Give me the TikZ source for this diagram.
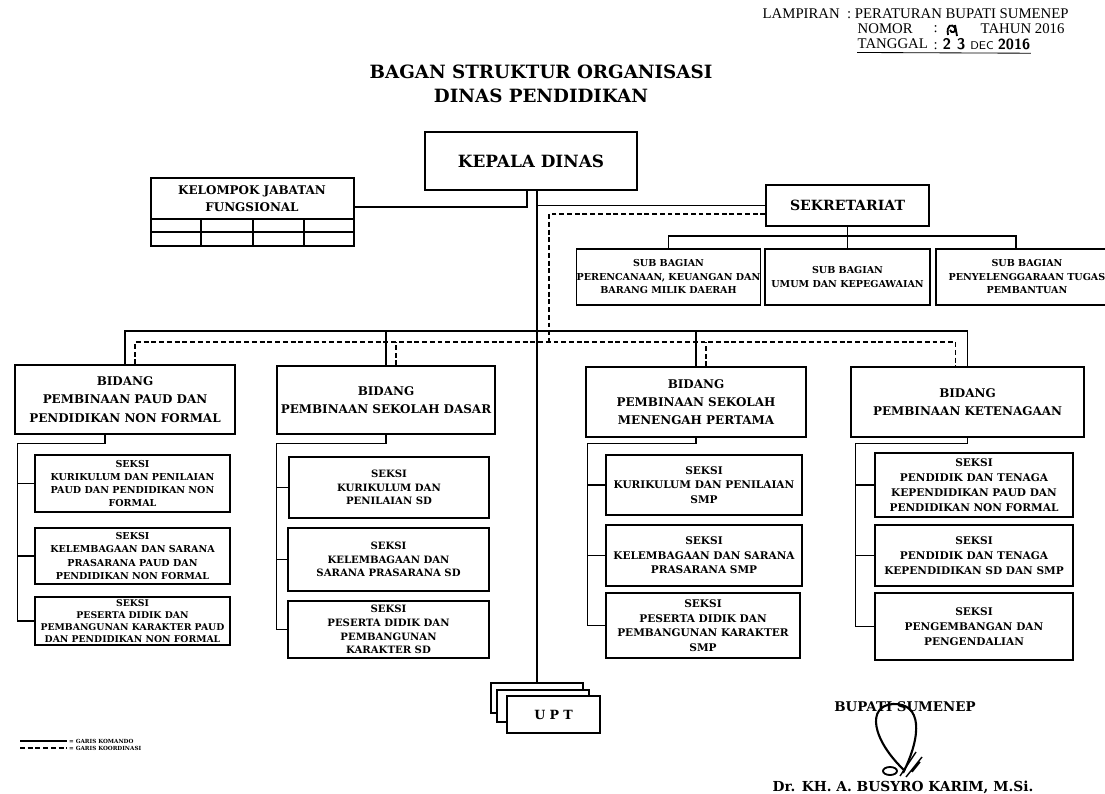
\documentclass[tikz,border=0pt]{standalone}
\usepackage{fontspec}
\setmainfont{Liberation Serif}
\newfontfamily\boxfont{DejaVu Serif}
\usetikzlibrary{positioning}
\newcommand{\setfs}[2]{\fontsize{#1}{#2}\selectfont}

\begin{document}
\begin{tikzpicture}[x=0.025cm,y=-0.025cm,line width=1pt,
    box/.style={draw,line width=1pt,inner sep=0pt,align=center,font=\boxfont\bfseries},
    wh/.style 2 args={minimum width=#1*0.025cm,minimum height=#2*0.025cm},
    head/.style={anchor=west,inner sep=0pt,font=\setfs{10.5}{12}},
    cmd/.style={line width=1pt},
    koord/.style={line width=1pt,dash pattern=on 3.5pt off 2pt}]
      \useasboundingbox (0,0) rectangle (1105,794);

      %header
      \node[head] (lamp) at (762,14) {LAMPIRAN\enspace: PERATURAN BUPATI SUMENEP};
      \node[head] (nomor) at (857,29) {NOMOR};
      \node[head] (nomorval) at (933,29) {:};
      \node[head] (tahun) at (980,29) {TAHUN 2016};
      \node[head] (tgl) at (857,44) {TANGGAL};
      \node[head] (tglval) at (933,44) {: \textsf{\textbf{\setfs{11}{12}2 3} \setfs{8}{10}DEC \textbf{\setfs{10.5}{12}2016}}};
      \draw[line width=1.3pt] (948,35) .. controls (946,25) and (952,23) .. (955,28) .. controls (957,32) and (951,34) .. (950,30) (955,25) -- (957,36);
      \draw[line width=.6pt] ([yshift=-2pt]tgl.south west) -- ([yshift=-2pt]tglval.south east);

      %title
      \node[font=\boxfont\bfseries\setfs{13}{17},align=center] (judul) at (541,84) {BAGAN STRUKTUR ORGANISASI\\DINAS PENDIDIKAN};

      %top level
      \node[box,wh={212}{58},font=\boxfont\bfseries\setfs{12}{14}] (kepala) at (531,161) {KEPALA DINAS};
      \node[box,wh={203}{68}] (kjf) at (252.5,212) {};
      \node[font=\boxfont\bfseries\setfs{8.5}{12},align=center] (kjftxt) at (252,199) {KELOMPOK JABATAN\\FUNGSIONAL};
      \draw (kjf.west |- 0,219) -- (kjf.east |- 0,219);
      \draw (kjf.west |- 0,232) -- (kjf.east |- 0,232);
      \draw (201,219) -- (201,246) (253,219) -- (253,246) (304,219) -- (304,246);
      \node[box,wh={163}{41},font=\boxfont\bfseries\setfs{10}{12}] (sek) at (847.5,205.5) {SEKRETARIAT};

      %sub bagian
      \node[box,wh={183}{56},font=\boxfont\bfseries\setfs{6.8}{9.6}] (sb1) at (668.5,277) {SUB BAGIAN\\PERENCANAAN, KEUANGAN DAN\\BARANG MILIK DAERAH};
      \node[box,wh={165}{56},font=\boxfont\bfseries\setfs{6.8}{9.6}] (sb2) at (847.5,277) {SUB BAGIAN\\UMUM DAN KEPEGAWAIAN};
      \node[box,wh={182}{56},font=\boxfont\bfseries\setfs{6.8}{9.6}] (sb3) at (1027,277) {SUB BAGIAN\\PENYELENGGARAAN TUGAS\\PEMBANTUAN};

      %bidang
      \node[box,wh={220}{69},font=\boxfont\bfseries\setfs{8.5}{13}] (bid1) at (125,399.5) {BIDANG\\PEMBINAAN PAUD DAN\\PENDIDIKAN NON FORMAL};
      \node[box,wh={218}{68},font=\boxfont\bfseries\setfs{8.5}{13}] (bid2) at (386,400) {BIDANG\\PEMBINAAN SEKOLAH DASAR};
      \node[box,wh={220}{70},font=\boxfont\bfseries\setfs{8.5}{13}] (bid3) at (696,402) {BIDANG\\PEMBINAAN SEKOLAH\\MENENGAH PERTAMA};
      \node[box,wh={233}{70},font=\boxfont\bfseries\setfs{8.5}{13}] (bid4) at (967.5,402) {BIDANG\\PEMBINAAN KETENAGAAN};

      %seksi
      \node[box,wh={195}{57},font=\boxfont\bfseries\setfs{6.8}{9.3}] (s11) at (132.5,483.5) {SEKSI\\KURIKULUM DAN PENILAIAN\\PAUD DAN PENDIDIKAN NON\\FORMAL};
      \node[box,wh={195}{56},font=\boxfont\bfseries\setfs{6.8}{9.3}] (s12) at (132.5,556) {SEKSI\\KELEMBAGAAN DAN SARANA\\PRASARANA PAUD DAN\\PENDIDIKAN NON FORMAL};
      \node[box,wh={195}{48},font=\boxfont\bfseries\setfs{6.6}{8.7}] (s13) at (132.5,621) {SEKSI\\PESERTA DIDIK DAN\\PEMBANGUNAN KARAKTER PAUD\\DAN PENDIDIKAN NON FORMAL};
      \node[box,wh={200}{61},font=\boxfont\bfseries\setfs{7.2}{9.7}] (s21) at (389,487.5) {SEKSI\\KURIKULUM DAN\\PENILAIAN SD};
      \node[box,wh={201}{63},font=\boxfont\bfseries\setfs{7.2}{9.7}] (s22) at (388.5,559.5) {SEKSI\\KELEMBAGAAN DAN\\SARANA PRASARANA SD};
      \node[box,wh={201}{57},font=\boxfont\bfseries\setfs{7.2}{9.7}] (s23) at (388.5,629.5) {SEKSI\\PESERTA DIDIK DAN\\PEMBANGUNAN\\KARAKTER SD};
      \node[box,wh={196}{60},font=\boxfont\bfseries\setfs{7.5}{10.4}] (s31) at (704,485) {SEKSI\\KURIKULUM DAN PENILAIAN\\SMP};
      \node[box,wh={196}{61},font=\boxfont\bfseries\setfs{7.5}{10.4}] (s32) at (704,555.5) {SEKSI\\KELEMBAGAAN DAN SARANA\\PRASARANA SMP};
      \node[box,wh={194}{65},font=\boxfont\bfseries\setfs{7.5}{10.4}] (s33) at (703,625.5) {SEKSI\\PESERTA DIDIK DAN\\PEMBANGUNAN KARAKTER\\SMP};
      \node[box,wh={198}{64},font=\boxfont\bfseries\setfs{7.5}{10.8}] (s41) at (974,485) {SEKSI\\PENDIDIK DAN TENAGA\\KEPENDIDIKAN PAUD DAN\\PENDIDIKAN NON FORMAL};
      \node[box,wh={198}{61},font=\boxfont\bfseries\setfs{7.5}{10.8}] (s42) at (974,555.5) {SEKSI\\PENDIDIK DAN TENAGA\\KEPENDIDIKAN SD DAN SMP};
      \node[box,wh={198}{67},font=\boxfont\bfseries\setfs{7.5}{10.8}] (s43) at (974,626.5) {SEKSI\\PENGEMBANGAN DAN\\PENGENDALIAN};

      %upt
      \node[box,fill=white,wh={92}{30}] (upt1) at (537,698) {};
      \node[box,fill=white,wh={92}{32}] (upt2) at (543,706) {};
      \node[box,fill=white,wh={93}{37},font=\boxfont\bfseries\setfs{9}{11}] (upt3) at (553.5,714.5) {U\,\,P\,\,T};

      %garis komando
      \coordinate (kjfknee) at (527,207);
      \coordinate (bus) at (0,331);
      \coordinate (sbus) at (0,236);
      \coordinate (sb3in) at ([xshift=-.275cm]sb3.north);
      \draw[cmd] (kjf.east |- kjfknee) -- (kjfknee) -- (kjfknee |- kepala.south);
      \draw[cmd] (upt1.north |- kepala.south) -- (upt1.north);
      \draw[cmd] (upt1.north |- sek.west) -- (sek.west);
      \draw[cmd] (sek.south) -- (sek.south |- sbus);
      \draw[cmd] (sb1.north) -- (sb1.north |- sbus) -- (sb3in |- sbus) -- (sb3in);
      \draw[cmd] (sb2.north) -- (sb2.north |- sbus);
      \draw[cmd] (bid1.north) -- (bid1.north |- bus) -- (bid4.north |- bus) -- (bid4.north);
      \draw[cmd] (bid2.north) -- (bid2.north |- bus);
      \draw[cmd] (bid3.north) -- (bid3.north |- bus);

      \draw[cmd] ([xshift=-.5cm]bid1.south) -- ++(0,9) -| ([xshift=-.425cm]s13.west) -- (s13.west);
      \draw[cmd] ([xshift=-.425cm]s11.west) -- (s11.west) ([xshift=-.425cm]s12.west) -- (s12.west);
      \draw[cmd] (bid2.south) -- ++(0,9) -| ([xshift=-.275cm]s23.west) -- (s23.west);
      \draw[cmd] ([xshift=-.275cm]s21.west) -- (s21.west) ([xshift=-.275cm]s22.west) -- (s22.west);
      \draw[cmd] (bid3.south) -- ++(0,6) -| ([xshift=-.45cm]s33.west) -- (s33.west);
      \draw[cmd] ([xshift=-.45cm]s31.west) -- (s31.west) ([xshift=-.45cm]s32.west) -- (s32.west);
      \draw[cmd] (bid4.south) -- ++(0,6) -| ([xshift=-.475cm]s43.west) -- (s43.west);
      \draw[cmd] ([xshift=-.475cm]s41.west) -- (s41.west) ([xshift=-.475cm]s42.west) -- (s42.west);

      %garis koordinasi
      \coordinate (kknee) at (549,214);
      \coordinate (kbus) at (0,342);
      \coordinate (d1) at ([xshift=.25cm]bid1.north);
      \coordinate (d2) at ([xshift=.25cm]bid2.north);
      \coordinate (d3) at ([xshift=.25cm]bid3.north);
      \coordinate (d4) at ([xshift=-.3cm]bid4.north);
      \draw[koord] (sek.west |- kknee) -- (kknee) -- (kknee |- kbus);
      \draw[koord] (d1) -- (d1 |- kbus) -- (d4 |- kbus) -- (d4);
      \draw[koord] (d2) -- (d2 |- kbus) (d3) -- (d3 |- kbus);

      %legend
      \coordinate (lg1) at (20,741);
      \coordinate (lg2) at (20,748);
      \draw[cmd] (lg1) -- ++(47,0) node[right,inner sep=1pt,font=\boxfont\bfseries\setfs{4}{5}] (lgk) {= GARIS KOMANDO};
      \draw[koord] (lg2) -- ++(47,0) node[right,inner sep=1pt,font=\boxfont\bfseries\setfs{4}{5}] (lgd) {= GARIS KOORDINASI};

      %tanda tangan
      \node[font=\boxfont\bfseries\setfs{9.5}{12}] (bupati) at (905,707) {BUPATI SUMENEP};
      \node[font=\boxfont\bfseries\setfs{9.8}{12}] (nama) at (903,787) {Dr. KH. A. BUSYRO KARIM, M.Si.};
      \draw[line width=1.5pt] (905,771) .. controls (872,740) and (866,706) .. (893,704) .. controls (922,703) and (922,735) .. (903,773);
      \draw[line width=1.3pt] (890,771) ellipse (7 and 4);
      \draw[line width=1pt] (900,776) -- (916,752) (906,777) -- (922,757) (912,772) -- (920,762);
    \end{tikzpicture}
\end{document}
